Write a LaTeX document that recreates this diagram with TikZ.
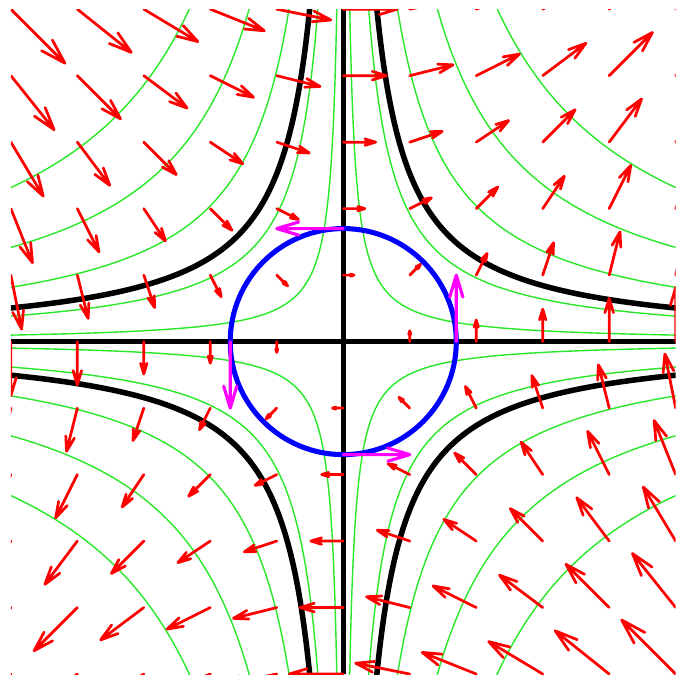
\documentclass[tikz,border=0pt]{standalone}
\definecolor{fieldred}{RGB}{255,0,0}
\definecolor{levelgreen}{RGB}{40,232,40}
\definecolor{circblue}{RGB}{0,0,255}
\definecolor{tanmag}{RGB}{255,0,255}
\tikzset{
  levelcurve/.style={draw=levelgreen, line width=0.36pt},
  zerolevel/.style={draw=black, line width=1.42pt},
  fieldarrow/.style={draw=fieldred, line width=0.7pt, line cap=round, line join=round},
  pathcircle/.style={draw=circblue, line width=1.3pt},
  tangentarrow/.style={draw=tanmag, line width=0.8pt, line cap=round, line join=round},
}
% quiver-style arrow: style, x, y, u, v
\newcommand{\quiverarrow}[5]{%
  \pgfmathsetmacro\qtx{(#2)+(#4)}%
  \pgfmathsetmacro\qty{(#3)+(#5)}%
  \pgfmathsetmacro\qax{\qtx-0.33*((#4)+0.3*(#5))}%
  \pgfmathsetmacro\qay{\qty-0.33*((#5)-0.3*(#4))}%
  \pgfmathsetmacro\qbx{\qtx-0.33*((#4)-0.3*(#5))}%
  \pgfmathsetmacro\qby{\qty-0.33*((#5)+0.3*(#4))}%
  \draw[#1] (#2,#3) -- (\qtx,\qty) (\qax,\qay) -- (\qtx,\qty) -- (\qbx,\qby);%
}
\begin{document}
\begin{tikzpicture}[x=1cm,y=1cm]
\useasboundingbox (-3.098,-3.036) rectangle (3.012,3.083);
\begin{scope}
  \clip (-3,-3) rectangle (3,3);
  % green level curves of xy
  \foreach \c in {0.176,0.69,1.47,2.55,4.17} {
    \pgfmathsetmacro\hs{sqrt(\c)}
    \pgfmathsetmacro\hT{ln(3.1/\hs)}
    \foreach \sx/\sy in {1/1,-1/1,1/-1,-1/-1}
      \draw[levelcurve] plot[domain=-\hT:\hT, samples=160, smooth]
        ({\sx*\hs*exp(\x)},{\sy*\hs*exp(-\x)});
  }
  % black level curves
  \coordinate (xl) at (-3,0);
  \coordinate (xr) at (3,0);
  \coordinate (yb) at (0,-3);
  \coordinate (yt) at (0,3);
  \draw[zerolevel] (xl) -- (xr);
  \draw[zerolevel] (yb) -- (yt);
  \pgfmathsetmacro\hs{sqrt(0.91)}
  \pgfmathsetmacro\hT{ln(3.1/\hs)}
  \foreach \sx/\sy in {1/1,-1/1,1/-1,-1/-1}
    \draw[zerolevel] plot[domain=-\hT:\hT, samples=160, smooth]
      ({\sx*\hs*exp(\x)},{\sy*\hs*exp(-\x)});
  % vector field F = (y, x)
  \foreach \i in {-5,...,5} {
    \foreach \j in {-5,...,5} {
      \pgfmathtruncatemacro\zz{abs(\i)+abs(\j)}
      \ifnum\zz>0
        \pgfmathsetmacro\px{0.6*\i}
        \pgfmathsetmacro\py{0.6*\j}
        \pgfmathsetmacro\pu{0.1625*\py}
        \pgfmathsetmacro\pv{0.1625*\px}
        \quiverarrow{fieldarrow}{\px}{\py}{\pu}{\pv}
      \fi
    }
  }
  % circle
  \draw[pathcircle] (0,0) circle[radius=1.02];
  % tangent vectors
  \quiverarrow{tangentarrow}{0}{1.02}{-0.6}{0}
  \quiverarrow{tangentarrow}{1.02}{0}{0}{0.6}
  \quiverarrow{tangentarrow}{0}{-1.02}{0.6}{0}
  \quiverarrow{tangentarrow}{-1.02}{0}{0}{-0.6}
\end{scope}
\end{tikzpicture}
\end{document}
